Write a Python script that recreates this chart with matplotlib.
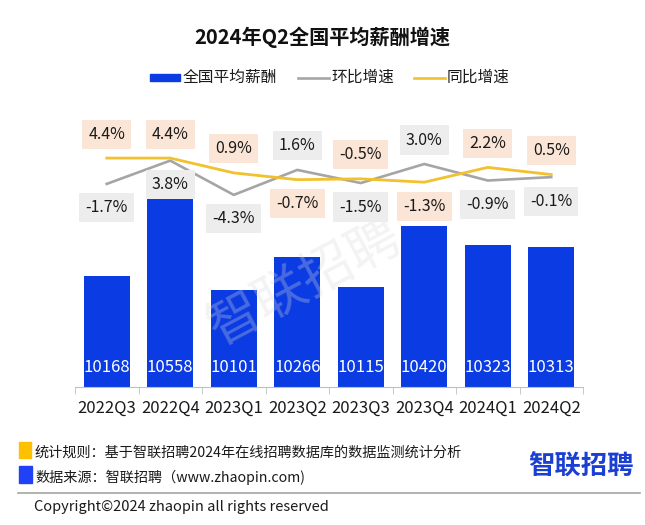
import numpy as np
import matplotlib.pyplot as plt
from matplotlib.patches import Rectangle
from matplotlib.lines import Line2D

plt.rcParams['font.family'] = ['Noto Sans CJK SC', 'DejaVu Sans']

quarters = ['2022Q3', '2022Q4', '2023Q1', '2023Q2', '2023Q3', '2023Q4', '2024Q1', '2024Q2']
salary = [10168, 10558, 10101, 10266, 10115, 10420, 10323, 10313]
qoq = [-1.7, 3.8, -4.3, 1.6, -1.5, 3.0, -0.9, -0.1]   # 环比
yoy = [4.4, 4.4, 0.9, -0.7, -0.5, -1.3, 2.2, 0.5]     # 同比
qoq_above = [False, False, False, True, False, True, False, False]
yoy_above = [True, True, True, False, True, False, True, True]

blue = '#0A3BE3'
gray = '#A5A5A5'
gold = '#F2C12E'
W, H = 645, 525

fig = plt.figure(figsize=(6.45, 5.25), dpi=100)
ax = fig.add_axes([75 / W, 1 - 387 / H, 508 / W, 267 / H])
x = np.arange(len(quarters))

bars = ax.bar(x, salary, width=0.72, color=blue, zorder=2)
ax.set_ylim(9614, 10949)
ax.set_xlim(-0.5, len(quarters) - 0.5)
for xi, v in zip(x, salary):
    ax.annotate(str(v), (xi, 9614), xytext=(0, 19 * 0.72), textcoords='offset points',
                ha='center', va='center', color='white', fontsize=12, zorder=3)

# 水印 (压在柱子上, 标签下面)
ax.text(305 / W, 1 - 282 / H, '智联招聘', fontsize=38, color='#D9D9D9', alpha=0.3,
        rotation=28, ha='center', va='center', zorder=2.5, transform=fig.transFigure)

for s in ['top', 'left', 'right']:
    ax.spines[s].set_visible(False)
ax.spines['bottom'].set_color('#BFBFBF')
ax.set_yticks([])
ax.set_xticks(x)
ax.set_xticklabels(quarters, fontsize=12, color='#1A1A1A')
ax.tick_params(axis='x', which='major', length=0, pad=9)
ax.set_xticks(np.arange(-0.5, len(quarters)), minor=True)
ax.tick_params(axis='x', which='minor', length=5, color='#BFBFBF')

ax2 = ax.twinx()
ax2.set_ylim(-49.7, 13.4)
ax2.axis('off')
ax2.plot(x, qoq, color=gray, lw=1.9, zorder=3)
ax2.plot(x, yoy, color=gold, lw=2.0, zorder=4)

off = 24 * 72 / 100
for xi, v, up in zip(x, yoy, yoy_above):
    ax2.annotate(f'{v:.1f}%', (xi, v), xytext=(0, off if up else -off), textcoords='offset points',
                 ha='center', va='center', fontsize=11.5, color='#1A1A1A', zorder=5,
                 bbox=dict(boxstyle='square,pad=0.38', fc='#FBE5D6', ec='none'))
for xi, v, up in zip(x, qoq, qoq_above):
    ax2.annotate(f'{v:.1f}%', (xi, v), xytext=(0, off if up else -off), textcoords='offset points',
                 ha='center', va='center', fontsize=11.5, color='#1A1A1A', zorder=5,
                 bbox=dict(boxstyle='square,pad=0.38', fc='#EDEDED', ec='none'))

# 标题
fig.text(322 / W, 1 - 37 / H, '2024年Q2全国平均薪酬增速', fontsize=14.5, fontweight='bold',
         ha='center', va='center', color='#111111')

# 图例
ly = 1 - 77.7 / H
fig.patches.append(Rectangle((150 / W, 1 - 81 / H), 30 / W, 7 / H, color=blue, transform=fig.transFigure))
fig.text(183 / W, ly, '全国平均薪酬', fontsize=11.3, va='center', color='#1A1A1A')
fig.lines.append(Line2D([298 / W, 329 / W], [ly, ly], color=gray, lw=1.9, transform=fig.transFigure))
fig.text(331 / W, ly, '环比增速', fontsize=11.3, va='center', color='#1A1A1A')
fig.lines.append(Line2D([414 / W, 445 / W], [ly, ly], color=gold, lw=1.9, transform=fig.transFigure))
fig.text(447 / W, ly, '同比增速', fontsize=11.3, va='center', color='#1A1A1A')

# 底部说明
fig.patches.append(Rectangle((19 / W, 1 - 458 / H), 12 / W, 16 / H, color='#FFC000', transform=fig.transFigure))
fig.patches.append(Rectangle((19 / W, 1 - 483 / H), 13 / W, 17 / H, color='#2041F5', transform=fig.transFigure))
fig.text(35 / W, 1 - 453 / H, '统计规则：基于智联招聘2024年在线招聘数据库的数据监测统计分析',
         fontsize=10.2, va='center', color='#1A1A1A')
fig.text(35 / W, 1 - 477 / H, '数据来源：智联招聘（www.zhaopin.com)',
         fontsize=10.2, va='center', color='#1A1A1A')
fig.text(634 / W, 1 - 467 / H, '智联招聘', fontsize=19, fontweight='bold', color='#1B3FD2',
         ha='right', va='center')
fig.lines.append(Line2D([18 / W, 640 / W], [1 - 493 / H, 1 - 493 / H], color='#A6A6A6', lw=1.2,
                        transform=fig.transFigure))
fig.text(34 / W, 1 - 507 / H, 'Copyright©2024 zhaopin all rights reserved', fontsize=10.5,
         va='center', color='#1A1A1A')

fig.savefig('out.png', dpi=100, facecolor='white')
